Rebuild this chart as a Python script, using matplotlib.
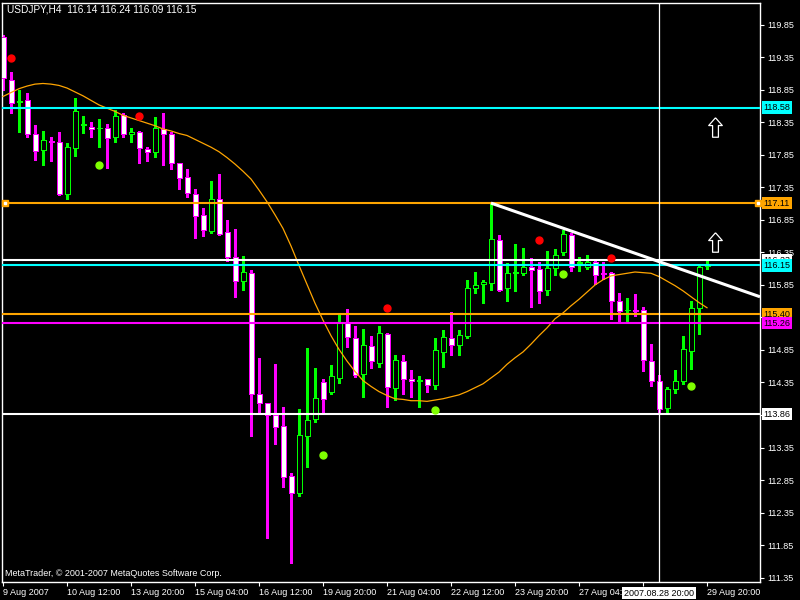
import matplotlib
matplotlib.use("Agg")
import matplotlib.pyplot as plt
import matplotlib.transforms as mtransforms
from matplotlib.patches import Rectangle
from matplotlib.path import Path
import numpy as np

# USDJPY H4 candles
opens = [119.67, 119.01, 118.67, 118.69, 118.17, 117.92, 118.06, 118.05, 117.25, 117.95,
         118.31, 118.28, 118.26, 118.26, 118.12, 118.46, 118.18, 118.21, 117.94, 117.89,
         118.25, 118.18, 117.72, 117.51, 117.25, 116.92, 116.68, 117.18, 116.66, 116.28,
         115.91, 116.03, 114.17, 114.03, 113.85, 113.68, 112.91, 112.65, 113.53, 113.79,
         114.35, 114.21, 114.42, 115.26, 115.03, 114.48, 114.91, 114.65, 115.09, 114.26,
         114.68, 114.41, 114.38, 114.40, 114.31, 114.82, 115.03, 114.93, 115.07, 115.81,
         115.86, 115.88, 116.54, 115.80, 116.04, 116.03, 116.12, 116.09, 115.78, 116.11,
         116.35, 116.62, 116.19, 116.13, 116.20, 116.03, 116.03, 115.60, 115.46, 115.46,
         115.46, 114.68, 114.37, 113.96, 114.25, 114.38, 114.84, 115.50, 116.14]
highs = [119.70, 119.13, 118.85, 118.80, 118.31, 118.22, 118.13, 118.20, 118.03, 118.73,
         118.45, 118.36, 118.40, 118.32, 118.54, 118.50, 118.26, 118.22, 117.98, 118.43,
         118.50, 118.20, 117.73, 117.63, 117.32, 117.03, 117.45, 117.56, 116.85, 116.71,
         116.30, 116.08, 114.73, 114.03, 114.63, 113.97, 112.96, 113.94, 114.88, 114.57,
         114.40, 114.62, 115.40, 115.48, 115.22, 115.17, 115.07, 115.22, 115.11, 114.77,
         114.77, 114.54, 114.45, 114.40, 115.03, 115.16, 115.43, 115.16, 115.93, 116.05,
         115.92, 117.10, 116.62, 116.19, 116.48, 116.42, 116.27, 116.21, 116.37, 116.41,
         116.70, 116.65, 116.28, 116.31, 116.22, 116.21, 116.05, 115.72, 115.65, 115.71,
         115.51, 114.94, 114.47, 114.28, 114.54, 115.07, 115.60, 116.17, 116.24]
lows = [118.85, 118.50, 118.21, 118.12, 117.77, 117.69, 117.75, 117.23, 117.18, 117.83,
        118.19, 118.12, 117.98, 117.65, 118.05, 118.13, 118.05, 117.73, 117.75, 117.82,
        117.70, 117.64, 117.32, 117.21, 116.58, 116.61, 116.65, 116.62, 116.22, 115.67,
        115.77, 113.53, 113.90, 111.96, 113.41, 112.75, 111.57, 112.61, 113.05, 113.75,
        113.90, 114.18, 114.34, 114.90, 114.44, 114.12, 114.58, 114.59, 113.98, 114.08,
        114.18, 114.12, 113.97, 114.21, 114.25, 114.59, 114.78, 114.78, 115.04, 115.73,
        115.57, 115.78, 115.76, 115.61, 115.75, 116.00, 115.51, 115.58, 115.70, 116.00,
        116.31, 116.07, 116.07, 116.09, 115.86, 115.94, 115.33, 115.30, 115.30, 115.38,
        114.53, 114.29, 113.90, 113.89, 114.19, 114.33, 114.56, 115.10, 116.09]
closes = [119.03, 118.65, 118.68, 118.18, 117.91, 118.08, 118.05, 117.25, 117.97, 118.53,
          118.32, 118.25, 118.27, 118.11, 118.45, 118.18, 118.21, 117.95, 117.89, 118.26,
          118.18, 117.72, 117.49, 117.26, 116.91, 116.69, 117.17, 116.64, 116.28, 115.91,
          116.05, 114.18, 114.03, 113.85, 113.67, 112.90, 112.65, 113.54, 113.78, 114.11,
          114.10, 114.45, 115.28, 115.05, 114.46, 114.92, 114.68, 115.11, 114.28, 114.69,
          114.40, 114.38, 114.39, 114.31, 114.85, 115.05, 114.92, 115.08, 115.80, 115.85,
          115.90, 116.56, 115.78, 116.03, 116.05, 116.12, 116.08, 115.76, 116.11, 116.31,
          116.63, 116.12, 116.20, 116.21, 116.01, 116.02, 115.61, 115.45, 115.47, 115.45,
          114.69, 114.37, 113.95, 114.25, 114.38, 114.86, 115.49, 116.12, 116.15]

# smoothed moving average (orange curve)
ma = [118.75, 118.81, 118.87, 118.91, 118.94, 118.95, 118.94, 118.92, 118.88, 118.82,
      118.76, 118.69, 118.62, 118.57, 118.52, 118.46, 118.42, 118.38, 118.34, 118.30,
      118.25, 118.22, 118.18, 118.15, 118.09, 118.03, 117.97, 117.90, 117.81, 117.71,
      117.60, 117.48, 117.31, 117.13, 116.93, 116.72, 116.45, 116.15, 115.86, 115.57,
      115.31, 115.07, 114.86, 114.68, 114.52, 114.38, 114.29, 114.21, 114.15, 114.10,
      114.09, 114.07, 114.07, 114.06, 114.08, 114.10, 114.13, 114.16, 114.21, 114.27,
      114.33, 114.42, 114.51, 114.63, 114.73, 114.82, 114.94, 115.07, 115.19, 115.33,
      115.42, 115.53, 115.63, 115.74, 115.85, 115.93, 115.99, 116.01, 116.03, 116.05,
      116.04, 116.03, 115.98, 115.91, 115.84, 115.76, 115.67, 115.58, 115.50]

# fractal dots
red_idx = [1, 17, 48, 67, 76]
red_val = [119.34, 118.45, 115.49, 116.54, 116.27]
green_idx = [12, 40, 54, 70, 86]
green_val = [117.70, 113.24, 113.93, 116.02, 114.29]

# horizontal levels
levels = [118.58, 117.11, 116.23, 116.15, 115.40, 115.26, 113.86]
level_labels = ["118.58", "117.11", "116.23", "116.15", "115.40", "115.26", "113.86"]
level_colors = ["#00FFFF", "#FFA500", "#FFFFFF", "#00FFFF", "#FFA500", "#FF00FF", "#FFFFFF"]

# trend line anchors (bar index, price)
trend_idx = [61, 82]
trend_val = [117.11, 116.21]

# arrows
arrow_idx = [89, 89]
arrow_val = [118.28, 116.51]

vline_idx = 82
vline_label = "2007.08.28 20:00"

xtick_pos = [0, 8, 16, 24, 32, 40, 48, 56, 64, 72, 80, 88]
xtick_labels = ["9 Aug 2007", "10 Aug 12:00", "13 Aug 20:00", "15 Aug 04:00",
                "16 Aug 12:00", "19 Aug 20:00", "21 Aug 04:00", "22 Aug 12:00",
                "23 Aug 20:00", "27 Aug 04:00", "", "29 Aug 20:00"]
ytick_vals = [111.35, 111.85, 112.35, 112.85, 113.35, 113.85, 114.35, 114.85,
              115.35, 115.85, 116.35, 116.85, 117.35, 117.85, 118.35, 118.85,
              119.35, 119.85]
ytick_labels = ["111.35", "111.85", "112.35", "112.85", "113.35", "", "114.35", "114.85",
                "", "115.85", "116.35", "116.85", "117.35", "117.85", "118.35", "118.85",
                "119.35", "119.85"]

title = "USDJPY,H4  116.14 116.24 116.09 116.15"
copyright = "MetaTrader, \u00a9 2001-2007 MetaQuotes Software Corp."

plt.rcParams['font.family'] = ['Liberation Sans', 'DejaVu Sans']
FS = 6.5

fig = plt.figure(figsize=(8, 6), dpi=100, facecolor='black')
ax = fig.add_axes([2/800, 18/600, 758/800, 579/600])
ax.set_facecolor('black')
ax.set_xlim(-0.125, 94.625)
ax.set_ylim(111.281, 120.188)

bull = "#00FF00"
bear = "#FF00FF"
bw = 0.625
for i in range(len(opens)):
    o, h, l, c = opens[i], highs[i], lows[i], closes[i]
    up = c >= o
    col = bull if up else bear
    ax.vlines(i, l, h, color=col, lw=0.9, zorder=2, antialiased=False)
    ax.add_patch(Rectangle((i - bw/2, min(o, c)), bw, abs(c - o),
                           facecolor='black' if up else 'white', edgecolor=col,
                           lw=0.7, zorder=3, antialiased=False))

# MA curve
ax.plot(range(len(ma)), ma, color='#FFA500', lw=0.9, zorder=4)

# horizontal levels with price boxes
trans_r = mtransforms.blended_transform_factory(ax.transAxes, ax.transData)
for lv, lab, col in zip(levels, level_labels, level_colors):
    ax.axhline(lv, color=col, lw=1.5, zorder=5)
    ax.text(1.005, lv, lab, transform=trans_r, ha='left', va='center', fontsize=FS,
            color='black', clip_on=False, zorder=20,
            bbox=dict(boxstyle='square,pad=0.18', facecolor=col, edgecolor='none'))
# selected object handles on the 117.11 line
ax.plot([0.25, 94.35], [117.11, 117.11], ls='none', marker='s', ms=4.5,
        mfc='#FFA500', mec='#FFA500', zorder=6, clip_on=False)
ax.plot([0.25, 94.35], [117.11, 117.11], ls='none', marker='s', ms=1.5,
        mfc='white', mec='white', zorder=7, clip_on=False)

# trend line (ray)
slope = (trend_val[1] - trend_val[0]) / (trend_idx[1] - trend_idx[0])
x_end = 94.625
ax.plot([trend_idx[0], x_end], [trend_val[0], trend_val[0] + slope * (x_end - trend_idx[0])],
        color='white', lw=2.2, zorder=6, solid_capstyle='butt')

# vertical cursor line
ax.axvline(vline_idx, color='white', lw=0.9, zorder=6)
trans_b = mtransforms.blended_transform_factory(ax.transData, ax.transAxes)
ax.text(vline_idx, -0.019, vline_label, transform=trans_b, ha='center', va='center',
        fontsize=FS, color='black', clip_on=False, zorder=20,
        bbox=dict(boxstyle='square,pad=0.2', facecolor='white', edgecolor='none'))

# fractal dots
ax.plot(red_idx, red_val, ls='none', marker='o', ms=5, mfc='#FF0000', mec='#FF0000', zorder=7)
ax.plot(green_idx, green_val, ls='none', marker='o', ms=5, mfc='#7FFF00', mec='#7FFF00', zorder=7)

# up arrows
arrow_path = Path([(0, 0.5), (-0.35, 0.1), (-0.15, 0.1), (-0.15, -0.5), (0.15, -0.5),
                   (0.15, 0.1), (0.35, 0.1), (0, 0.5)])
ax.plot(arrow_idx, arrow_val, ls='none', marker=arrow_path, ms=14, mfc='black',
        mec='white', mew=0.9, zorder=8)

# texts
ax.text(0.0066, 0.988, title, transform=ax.transAxes, ha='left', va='center',
        fontsize=FS + 0.8, color='white', zorder=20)
ax.text(0.004, 0.0155, copyright, transform=ax.transAxes, ha='left', va='center',
        fontsize=FS, color='white', zorder=20)

# axes styling
for s in ax.spines.values():
    s.set_color('white')
    s.set_linewidth(1.0)
ax.yaxis.tick_right()
ax.set_yticks(ytick_vals)
ax.set_yticklabels(ytick_labels)
ax.set_xticks(xtick_pos)
ax.set_xticklabels(xtick_labels)
for lbl in ax.get_xticklabels():
    lbl.set_ha('left')
ax.tick_params(axis='both', colors='white', labelsize=FS, length=3, width=0.8, pad=2)
ax.tick_params(axis='x', pad=1.5)

fig.savefig("out.png", dpi=100, facecolor='black')
